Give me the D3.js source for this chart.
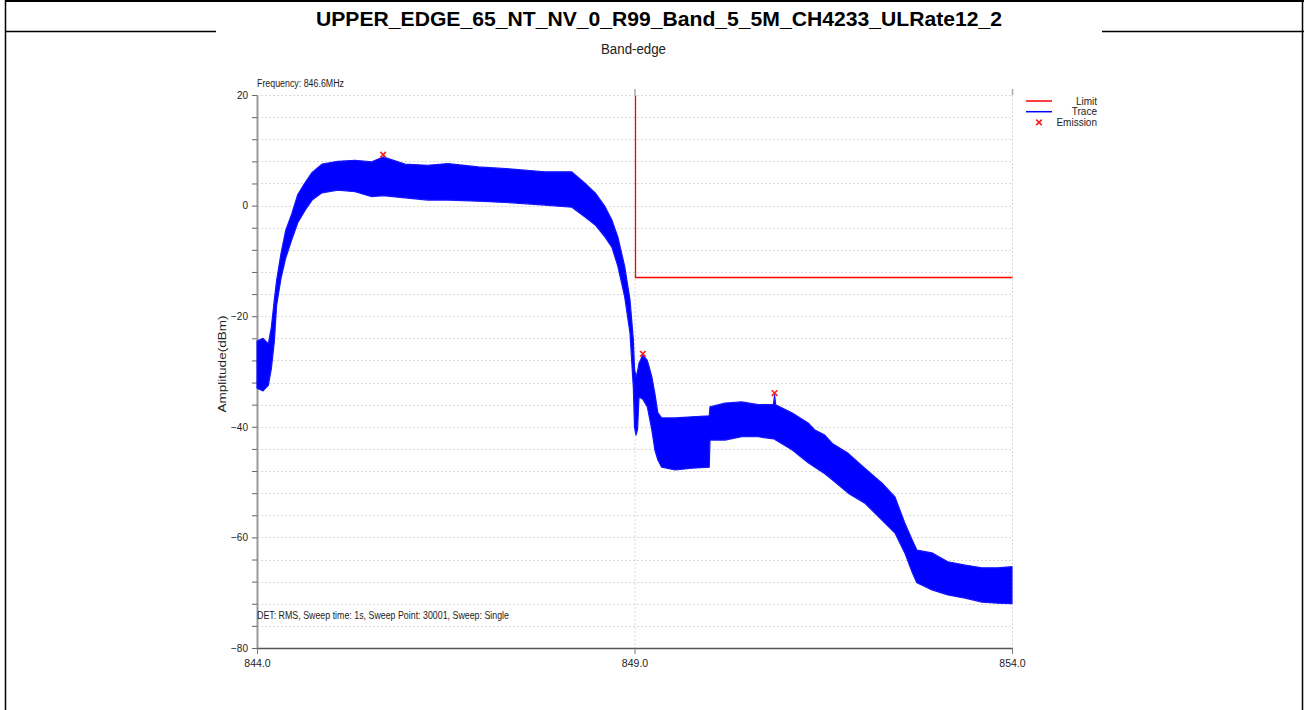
<!DOCTYPE html>
<html><head><meta charset="utf-8">
<script src="https://cdn.jsdelivr.net/npm/d3@7"></script>
<style>
html,body{margin:0;padding:0;background:#fff;}
svg{display:block;}
text{font-family:"Liberation Sans Narrow","Liberation Sans",Arial,sans-serif;fill:#222;}
</style></head>
<body>
<svg id="chart" width="1304" height="710"></svg>
<script>
// ---- data ----
const titleText = "UPPER_EDGE_65_NT_NV_0_R99_Band_5_5M_CH4233_ULRate12_2";
const chartTitle = "Band-edge";
const freqLabel = "Frequency: 846.6MHz";
const infoLabel = "DET: RMS, Sweep time: 1s, Sweep Point: 30001, Sweep: Single";
const yLabel = "Amplitude(dBm)";
const xTicks = [844, 849, 854];
const yMajorTicks = [-80, -60, -40, -20, 0, 20];
const yMinorTicks = [-76,-72,-68,-64,-56,-52,-48,-44,-36,-32,-28,-24,-16,-12,-8,-4,4,8,12,16];
const legendNames = ["Limit", "Trace", "Emission"];

// trace envelope (MHz, upper dBm, lower dBm)
const traceFreq = [844.00,844.08,844.15,844.19,844.23,844.26,844.32,844.38,844.46,844.54,844.64,844.73,844.86,845.07,845.30,845.52,845.67,845.96,846.26,846.53,846.93,847.38,847.81,848.17,848.34,848.48,848.61,848.70,848.78,848.87,848.94,848.985,849.00,849.02,849.04,849.06,849.11,849.17,849.23,849.27,849.31,849.36,849.54,849.76,849.99,850.00,850.20,850.42,850.64,850.84,850.855,850.87,851.09,851.30,851.39,851.52,851.62,851.83,852.05,852.28,852.45,852.58,852.68,852.74,852.94,853.15,853.38,853.60,853.81,854.00];
const traceUpper = [-24.5,-24,-25,-22,-17,-13.5,-8.5,-4.5,-1.5,2,4.2,6,7.5,8,8.2,7.9,8.8,7.5,7.3,7.6,7,6.6,6.1,6.1,4.1,2.3,-0.2,-2.6,-5.7,-11,-17,-24.3,-29.5,-31,-30,-28.5,-27,-28,-31,-34,-37.5,-38.4,-38.4,-38.2,-38,-36.4,-35.7,-35.5,-36,-36,-34.2,-36,-37.5,-39.3,-40.6,-41.5,-43,-44.8,-47.5,-50.2,-52.7,-57.4,-60.5,-62.3,-62.8,-64.4,-65,-65.5,-65.5,-65.3];
const traceLower = [-33,-33.5,-32.5,-29.5,-24.5,-18,-13,-9.5,-6.2,-3.1,-0.8,1,2.3,2.8,2.5,1.6,1.8,1.4,1,1,0.8,0.5,0.1,-0.3,-2,-3.5,-5.7,-7.5,-11,-16.5,-23,-33,-40,-41.5,-40.5,-34.6,-35,-36.4,-40.6,-44.2,-46,-47.3,-47.8,-47.5,-47.3,-42.4,-42.4,-41.8,-41.8,-42.2,-42.2,-42.4,-44.2,-46.5,-47.3,-48.5,-49.6,-52,-53.8,-56.9,-59.2,-62.8,-66.4,-68.2,-69.5,-70.4,-71,-71.7,-71.9,-72];

const limitFreq = [849, 849, 854];
const limitAmp = [20, -13, -13];

const emissionFreq = [845.67, 849.11, 850.855];
const emissionAmp = [9.2, -26.8, -33.9];

// ---- drawing ----
const svg = d3.select("#chart");
const x = d3.scaleLinear().domain([844, 854]).range([257, 1012]);
const y = d3.scaleLinear().domain([-80, 20]).range([648, 95]);

// frame
const frame = svg.append("g").attr("stroke", "#000").attr("fill", "none");
frame.append("line").attr("x1", 5).attr("x2", 1304).attr("y1", 1).attr("y2", 1).attr("stroke-width", 2);
frame.append("line").attr("x1", 5.5).attr("x2", 5.5).attr("y1", 0).attr("y2", 710).attr("stroke-width", 1.5);
frame.append("line").attr("x1", 1302.5).attr("x2", 1302.5).attr("y1", 0).attr("y2", 710).attr("stroke-width", 1.5);
frame.append("line").attr("x1", 5).attr("x2", 216).attr("y1", 31.5).attr("y2", 31.5).attr("stroke-width", 1.5);
frame.append("line").attr("x1", 1102).attr("x2", 1304).attr("y1", 31.5).attr("y2", 31.5).attr("stroke-width", 1.5);

svg.append("text").attr("x", 659).attr("y", 26).attr("text-anchor", "middle")
  .style("font-family", "'Liberation Sans Narrow','Liberation Sans',Arial,sans-serif")
  .style("font-weight", "bold").style("font-size", "20px").style("fill", "#000")
  .attr("textLength", 686).attr("lengthAdjust", "spacingAndGlyphs").text(titleText);

svg.append("text").attr("x", 633.5).attr("y", 54).attr("text-anchor", "middle")
  .style("font-size", "14px").attr("textLength", 65).attr("lengthAdjust", "spacingAndGlyphs").text(chartTitle);

// grid
const grid = svg.append("g");
grid.selectAll("line.h").data(yMinorTicks.concat(yMajorTicks.filter(d => d > -80))).join("line")
  .attr("x1", 257).attr("x2", 1012)
  .attr("y1", d => Math.round(y(d)) + 0.5).attr("y2", d => Math.round(y(d)) + 0.5)
  .attr("stroke", "#d8d8d8").attr("stroke-width", 1).attr("stroke-dasharray", "2,2");
grid.selectAll("line.v").data(xTicks.slice(1)).join("line")
  .attr("x1", d => x(d) + 0.5).attr("x2", d => x(d) + 0.5)
  .attr("y1", 95).attr("y2", 648)
  .attr("stroke", "#d8d8d8").attr("stroke-width", 1).attr("stroke-dasharray", "2,2");
grid.selectAll("line.t").data(xTicks.slice(1)).join("line")
  .attr("x1", d => x(d) + 0.5).attr("x2", d => x(d) + 0.5)
  .attr("y1", 89).attr("y2", 95).attr("stroke", "#aaa").attr("stroke-width", 1.5);

// axes
const yAxis = d3.axisLeft(y).tickValues(yMajorTicks.concat(yMinorTicks)).tickSize(5).tickSizeOuter(0)
  .tickFormat(d => yMajorTicks.includes(d) ? d3.format("d")(d) : "");
const gy = svg.append("g").attr("transform", "translate(257,0)").call(yAxis);
gy.select(".domain").attr("stroke", "#999").attr("stroke-width", 2);
gy.selectAll(".tick line").attr("stroke", "#666");
gy.selectAll(".tick text").attr("x", -9).style("font-size", "10px").style("fill", "#222")
  .style("font-family", "'Liberation Sans Narrow','Liberation Sans',Arial,sans-serif");

const xAxis = d3.axisBottom(x).tickValues(xTicks).tickSize(6).tickSizeOuter(0).tickFormat(d3.format(".1f"));
const gx = svg.append("g").attr("transform", "translate(0,648)").call(xAxis);
gx.select(".domain").attr("stroke", "#555").attr("stroke-width", 1.5);
gx.selectAll(".tick line").attr("stroke", "#777");
gx.selectAll(".tick text").attr("y", 12).style("font-size", "10.5px").style("fill", "#222")
  .style("font-family", "'Liberation Sans Narrow','Liberation Sans',Arial,sans-serif");

svg.append("text").attr("transform", "translate(226,364) rotate(-90)").attr("text-anchor", "middle")
  .style("font-size", "10.5px").attr("textLength", 97).attr("lengthAdjust", "spacingAndGlyphs").text(yLabel);

svg.append("text").attr("x", 257).attr("y", 87).style("font-size", "10px")
  .attr("textLength", 87).attr("lengthAdjust", "spacingAndGlyphs").text(freqLabel);
svg.append("text").attr("x", 257).attr("y", 619).style("font-size", "10.5px")
  .attr("textLength", 252).attr("lengthAdjust", "spacingAndGlyphs").text(infoLabel);

// trace band
const traceData = traceFreq.map((f, i) => ({f, u: traceUpper[i], l: traceLower[i]}));
const area = d3.area().x(d => x(d.f)).y0(d => y(d.l)).y1(d => y(d.u));
svg.append("path").datum(traceData).attr("d", area)
  .attr("fill", "#0000ff").attr("stroke", "#1515ff").attr("stroke-width", 1.2).attr("stroke-linejoin", "round");

// limit
const limitData = limitFreq.map((f, i) => ({f, a: limitAmp[i]}));
svg.append("path").datum(limitData)
  .attr("d", d3.line().x(d => Math.round(x(d.f)) + 0.5).y(d => Math.round(y(d.a)) + 0.5))
  .attr("fill", "none").attr("stroke", "#ff0000").attr("stroke-width", 1.3);

// emission markers
const sym = d3.symbol().type(d3.symbolX).size(22);
svg.selectAll("path.em").data(emissionFreq.map((f, i) => ({f, a: emissionAmp[i]}))).join("path")
  .attr("transform", d => `translate(${x(d.f)},${y(d.a)})`).attr("d", sym)
  .attr("fill", "none").attr("stroke", "#ff2020").attr("stroke-width", 1.6);

// legend
const lg = svg.append("g");
const legendColors = ["#ff0000", "#0000ff"];
legendNames.forEach((name, i) => {
  const cy = 101 + i * 10.7;
  if (i < 2) {
    lg.append("line").attr("x1", 1026).attr("x2", 1052).attr("y1", cy).attr("y2", cy)
      .attr("stroke", legendColors[i]).attr("stroke-width", 1.5);
  } else {
    lg.append("path").attr("transform", `translate(1039,${cy})`).attr("d", sym)
      .attr("fill", "none").attr("stroke", "#ff2020").attr("stroke-width", 1.6);
  }
  lg.append("text").attr("x", 1097).attr("y", cy + 3.5).attr("text-anchor", "end")
    .style("font-size", "10px").text(name);
});
</script>
</body></html>
